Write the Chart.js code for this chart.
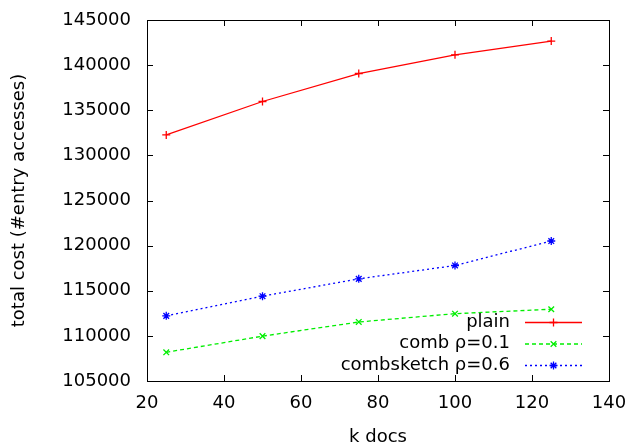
<!DOCTYPE html>
<html>
<head>
<meta charset="utf-8">
<script src="https://cdn.jsdelivr.net/npm/chart.js@4/dist/chart.umd.min.js"></script>
<style>
  html,body{margin:0;padding:0;background:#fff;}
  #wrap{width:632px;height:448px;}
</style>
</head>
<body>
<div id="wrap"><canvas id="c" width="632" height="448"></canvas></div>
<script>
/* ===== data ===== */
const kDocs = [25, 50, 75, 100, 125];
const plainCost = [132270, 135970, 139070, 141140, 142660];
const combCost = [108180, 109970, 111540, 112460, 112950];
const sketchCost = [112220, 114400, 116320, 117800, 120510];
const seriesNames = ["plain", "comb \u03c1=0.1", "combsketch \u03c1=0.6"];
const xTicks = [20, 40, 60, 80, 100, 120, 140];
const yTicks = [105000, 110000, 115000, 120000, 125000, 130000, 135000, 140000, 145000];

const FONT = "DejaVu Sans";
const pts = ys => kDocs.map((x, i) => ({x, y: ys[i]}));

/* ===== gnuplot-ish frame with inward ticks on all sides ===== */
const framePlugin = {
  id: "frame",
  afterDraw(chart){
    const {ctx, chartArea: a, scales:{x, y}} = chart;
    const len = 6;
    ctx.save();
    ctx.strokeStyle = "#000"; ctx.lineWidth = 1;
    ctx.strokeRect(a.left + .5, a.top + .5, a.right - a.left, a.bottom - a.top);
    ctx.beginPath();
    xTicks.forEach(v => {
      const px = Math.round(x.getPixelForValue(v)) + .5;
      ctx.moveTo(px, a.bottom); ctx.lineTo(px, a.bottom - len);
      ctx.moveTo(px, a.top); ctx.lineTo(px, a.top + len);
    });
    yTicks.forEach(v => {
      const py = Math.round(y.getPixelForValue(v)) + .5;
      ctx.moveTo(a.left, py); ctx.lineTo(a.left + len, py);
      ctx.moveTo(a.right, py); ctx.lineTo(a.right - len, py);
    });
    ctx.stroke();
    ctx.restore();
  }
};

/* ===== key: text on the left, sample on the right ===== */
const keyPlugin = {
  id: "key",
  afterDatasetsDraw(chart){
    const ctx = chart.ctx;
    const textRight = 510, lineL = 525, lineR = 582, top = 322, step = 21.5;
    ctx.save();
    chart.data.datasets.forEach((ds, i) => {
      const yy = top + i * step;
      ctx.font = `18px "${FONT}"`;
      ctx.fillStyle = "#000";
      ctx.textAlign = "right"; ctx.textBaseline = "middle";
      ctx.fillText(ds.label, textRight, yy);
      ctx.strokeStyle = ds.borderColor; ctx.lineWidth = ds.borderWidth;
      ctx.setLineDash(ds.borderDash || []);
      ctx.beginPath(); ctx.moveTo(lineL, yy + .5); ctx.lineTo(lineR, yy + .5); ctx.stroke();
      ctx.setLineDash([]);
      if (Chart.helpers && Chart.helpers.drawPoint) {
        ctx.lineWidth = ds.pointBorderWidth;
        Chart.helpers.drawPoint(ctx, {pointStyle: ds.pointStyle, radius: ds.pointRadius, borderWidth: ds.pointBorderWidth}, (lineL + lineR) / 2, yy + .5);
      }
    });
    ctx.restore();
  }
};

const mk = (label, ys, color, dash, style) => ({
  label, data: pts(ys), borderColor: color, backgroundColor: color,
  borderWidth: 1.3, borderDash: dash, tension: 0,
  pointStyle: style, pointRadius: 4, pointBorderWidth: 1.3, pointBorderColor: color
});

new Chart(document.getElementById("c"), {
  type: "line",
  data: {
    datasets: [
      mk(seriesNames[0], plainCost, "#ff0000", [], "cross"),
      mk(seriesNames[1], combCost, "#00ee00", [4, 3], "crossRot"),
      mk(seriesNames[2], sketchCost, "#0000ff", [2, 3], "star")
    ]
  },
  options: {
    responsive: false, animation: false, devicePixelRatio: 1,
    layout: {padding: {left: 0, top: 20, right: 23, bottom: 0}},
    plugins: {legend: {display: false}, tooltip: {enabled: false}},
    scales: {
      x: {
        type: "linear", min: 20, max: 140,
        afterBuildTicks: s => { s.ticks = xTicks.map(v => ({value: v})); },
        afterFit: s => { s.height = 67; s.paddingLeft = 0; s.paddingRight = 0; },
        grid: {display: false, drawTicks: false},
        border: {display: false},
        ticks: {color: "#000", font: {family: FONT, size: 18}, padding: 12, maxRotation: 0},
        title: {display: true, text: "k docs", color: "#000", font: {family: FONT, size: 18}, padding: {top: 0, bottom: 0}}
      },
      y: {
        type: "linear", min: 105000, max: 145000,
        afterBuildTicks: s => { s.ticks = yTicks.map(v => ({value: v})); },
        afterFit: s => { s.width = 147; s.paddingTop = 0; s.paddingBottom = 0; },
        grid: {display: false, drawTicks: false},
        border: {display: false},
        ticks: {color: "#000", font: {family: FONT, size: 18}, padding: 16, callback: v => String(v)},
        title: {display: true, text: "total cost (#entry accesses)", color: "#000", font: {family: FONT, size: 18}, padding: {top: 9, bottom: 0}}
      }
    }
  },
  plugins: [framePlugin, keyPlugin]
});
</script>
</body>
</html>
